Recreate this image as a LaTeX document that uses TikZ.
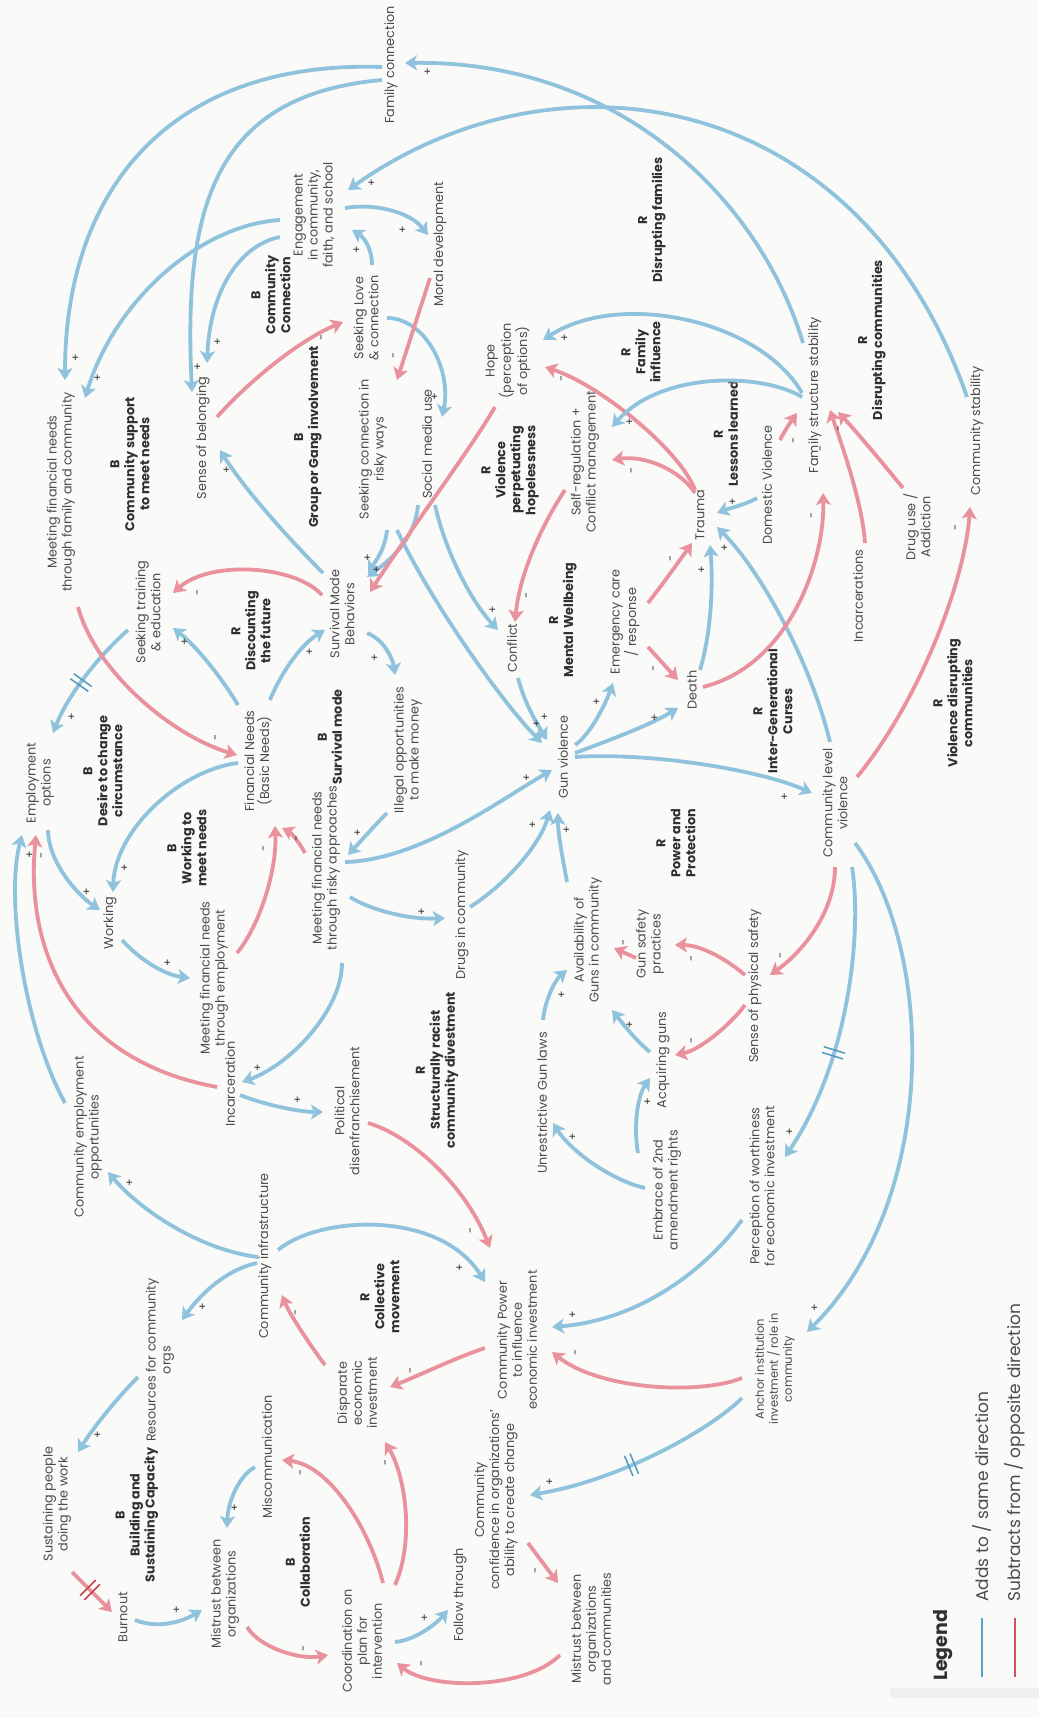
\documentclass[tikz,border=0pt]{standalone}
\usepackage{fontspec}
\setmainfont{Poppins}
\usetikzlibrary{arrows.meta,decorations.markings}
\definecolor{bl}{HTML}{8FC2DC}
\definecolor{rd}{HTML}{E9919D}
\definecolor{bgc}{HTML}{FAFAF8}
\definecolor{txt}{HTML}{4C4C4C}
\definecolor{dk}{HTML}{303030}
\definecolor{dlyb}{HTML}{4F9BBF}
\definecolor{dlyr}{HTML}{C8404F}
\definecolor{legb}{HTML}{4FA6C8}
\definecolor{legr}{HTML}{D05564}
\begin{document}
\begin{tikzpicture}[x=1pt,y=-1pt,
 vlab/.style={rotate=90, align=center, text=txt, font=\fontsize{12.8}{15}\selectfont, inner sep=1pt},
 looplab/.style={rotate=90, align=center, text=dk, font=\fontsize{12.8}{15}\selectfont\bfseries, inner sep=1pt},
 sgn/.style={rotate=90, text=dk, font=\fontsize{11}{11}\selectfont, inner sep=0pt},
 plusar/.style={draw=bl, line width=3.8pt, -{Stealth[length=12pt,width=15pt,inset=3pt]}},
 minusar/.style={draw=rd, line width=3.8pt, -{Stealth[length=12pt,width=15pt,inset=3pt]}},
 delayb/.style={postaction={decorate,decoration={markings,mark=at position #1 with {\draw[-,draw=dlyb,line width=1.5pt] (-3,-11)--(-3,11) (3,-11)--(3,11);}}}},
 delayr/.style={postaction={decorate,decoration={markings,mark=at position #1 with {\draw[-,draw=dlyr,line width=1.5pt] (-3,-11)--(-3,11) (3,-11)--(3,11);}}}}
]
\useasboundingbox (0,0) rectangle (1039,1718);
\fill[bgc] (0,0) rectangle (1039,1718);
\fill[black!6] (890,1688) rectangle (1039,1698);

% ---------- variables ----------
\node[vlab] (fam) at (391,65) {Family connection};
\node[vlab] (eng) at (314,215) {Engagement\\in community,\\faith, and school};
\node[looplab] (lccB) at (271,295) {B\\Community\\Connection};
\node[vlab] (mfam) at (61,492) {Meeting financial needs\\through family and community};
\node[looplab] (lcsB) at (130,464) {B\\Community support\\to meet needs};
\node[vlab] (sob) at (203,438) {Sense of belonging};
\node[looplab] (lggB) at (308,437) {B\\Group or Gang involvement};
\node[vlab] (slc) at (366,318) {Seeking Love\\\& connection};
\node[vlab] (mor) at (440,244) {Moral development};
\node[looplab] (ldfR) at (652,220) {R\\Disrupting families};
\node[vlab] (hope) at (508,361) {Hope\\(perception\\of options)};
\node[looplab] (lfiR) at (641,352) {R\\Family\\influence};
\node[vlab] (scr) at (373,449) {Seeking connection in\\risky ways};
\node[vlab] (smu) at (427,444) {Social media use};
\node[looplab] (lvpR) at (510,470) {R\\Violence\\perpetuating\\hopelessness};
\node[vlab] (srg) at (585,462) {Self-regulation +\\Conflict management};
\node[vlab] (trm) at (700,515) {Trauma};
\node[vlab] (dv) at (767,485) {Domestic Violence};
\node[looplab] (lllR) at (726,434) {R\\Lessons learned};
\node[vlab] (fss) at (815,395) {Family structure stability};
\node[looplab] (ldcR) at (872,340) {R\\Disrupting communities};
\node[vlab] (cst) at (977,431) {Community stability};
\node[vlab] (dua) at (917,527) {Drug use /\\Addiction};
\node[vlab] (inc2) at (858,596) {Incarcerations};
\node[looplab] (lvdR) at (953,703) {R\\Violence disrupting\\communities};
\node[vlab] (clv) at (835,803) {Community level\\violence};
\node[looplab] (ligR) at (773,711) {R\\Inter-Generational\\Curses};
\node[vlab] (dth) at (692,690) {Death};
\node[vlab] (emc) at (625,622) {Emergency care\\/ response};
\node[looplab] (lmwR) at (563,620) {R\\Mental Wellbeing};
\node[vlab] (cfl) at (512,648) {Conflict};
\node[vlab] (gv) at (563,757) {Gun violence};
\node[vlab] (smb) at (342,614) {Survival Mode\\Behaviors};
\node[vlab] (ill) at (408,750) {Illegal opportunities\\to make money};
\node[vlab] (ste) at (148,612) {Seeking training\\\& education};
\node[looplab] (ldfuR) at (251,631) {R\\Discounting\\the future};
\node[vlab] (emp) at (40,783) {Employment\\options};
\node[looplab] (ldcB) at (103,771) {B\\Desire to change\\circumstance};
\node[vlab] (fin) at (258,761) {Financial Needs\\(Basic Needs)};
\node[looplab] (lsmB) at (330,737) {B\\Survival mode};
\node[looplab] (lwmB) at (187,848) {B\\Working to\\meet needs};
\node[vlab] (wrk) at (110,923) {Working};
\node[vlab] (mfe) at (214,978) {Meeting financial needs\\through employment};
\node[vlab] (mfr) at (326,868) {Meeting financial needs\\through risky approaches};
\node[vlab] (inc) at (230,1084) {Incarceration};
\node[vlab] (pol) at (347,1111) {Political\\disenfranchisement};
\node[vlab] (cemp) at (88,1137) {Community employment\\opportunities};
\node[vlab] (cinf) at (265,1256) {Community infrastructure};
\node[vlab] (res) at (160,1360) {Resources for community\\orgs};
\node[looplab] (lbsB) at (137,1515) {B\\Building and\\Sustaining Capacity};
\node[vlab] (sus) at (57,1504) {Sustaining people\\doing the work};
\node[vlab] (bur) at (123,1617) {Burnout};
\node[vlab] (mbo) at (225,1594) {Mistrust between\\organizations};
\node[vlab] (mis) at (267,1457) {Miscommunication};
\node[looplab] (lcoB) at (298,1562) {B\\Collaboration};
\node[vlab] (dei) at (357,1393) {Disparate\\economic\\investment};
\node[vlab] (coo) at (362,1641) {Coordination on\\plan for\\intervention};
\node[vlab] (fol) at (460,1595) {Follow through};
\node[vlab] (ccc) at (496,1500) {Community\\confidence in organizations'\\ability to create change};
\node[vlab] (mboc) at (591,1629) {Mistrust between\\organizations\\and communities};
\node[vlab] (cpw) at (517,1340) {Community Power\\to influence\\economic investment};
\node[looplab] (lcmR) at (380,1297) {R\\Collective\\movement};
\node[looplab] (lsrR) at (437,1070) {R\\Structurally racist\\community divestment};
\node[vlab] (dic) at (462,915) {Drugs in community};
\node[vlab] (avg) at (588,940) {Availability of\\Guns in community};
\node[vlab] (gsp) at (650,944) {Gun safety\\practices};
\node[vlab] (acq) at (663,1060) {Acquiring guns};
\node[vlab] (ugl) at (542,1103) {Unrestrictive Gun laws};
\node[vlab] (emb) at (667,1190) {Embrace of 2nd\\amendment rights};
\node[looplab] (lppR) at (676,843) {R\\Power and\\Protection};
\node[vlab] (sps) at (755,986) {Sense of physical safety};
\node[vlab] (pwe) at (762,1186) {Perception of worthiness\\for economic investment};
\node[vlab, font=\fontsize{11.5}{14}\selectfont] (anc) at (775,1369) {Anchor institution\\investment / role in\\community};

% ---------- connectors ----------
\draw[plusar] ([shift={(-9,2)}]fam.center) .. controls (170,60) and (65,190) .. ([shift={(4,-112)}]mfam.center);
\draw[plusar] ([shift={(-9,15)}]fam.center) .. controls (215,95) and (183,205) .. ([shift={(-11,-46)}]sob.center);
\draw[plusar] ([shift={(-34,5)}]eng.center) .. controls (200,225) and (115,300) .. ([shift={(24,-94)}]mfam.center);
\draw[plusar] ([shift={(-34,22)}]eng.center) .. controls (240,245) and (210,290) .. ([shift={(4,-75)}]sob.center);
\draw[plusar] ([shift={(-10,-34)}]cst.center) .. controls (860,90) and (560,40) .. ([shift={(34,-25)}]eng.center);
\draw[plusar] ([shift={(-12,-52)}]fss.center) .. controls (760,200) and (620,60) .. ([shift={(14,-2)}]fam.center);
\draw[plusar] ([shift={(6,-53)}]slc.center) .. controls (372,250) and (365,238) .. ([shift={(38,15)}]eng.center);
\draw[plusar] ([shift={(31,-7)}]eng.center) .. controls (375,203) and (410,212) .. ([shift={(-12,-9)}]mor.center);
\draw[plusar] ([shift={(21,0)}]slc.center) .. controls (425,318) and (452,370) .. ([shift={(15,-27)}]smu.center);
\draw[minusar] ([shift={(-10,34)}]mor.center) -- ([shift={(24,-69)}]scr.center);
\draw[minusar] ([shift={(14,-21)}]sob.center) .. controls (250,380) and (300,340) .. ([shift={(-23,4)}]slc.center);
\draw[plusar] ([shift={(-19,-41)}]smb.center) .. controls (290,540) and (245,490) .. ([shift={(17,12)}]sob.center);
\draw[minusar] ([shift={(-20,-19)}]smb.center) .. controls (295,565) and (210,560) .. ([shift={(25,-19)}]ste.center);
\draw[plusar] ([shift={(-20,-56)}]fin.center) .. controls (220,675) and (195,645) .. ([shift={(25,16)}]ste.center);
\draw[plusar] ([shift={(12,-61)}]fin.center) .. controls (280,675) and (300,645) .. ([shift={(-17,16)}]smb.center);
\draw[plusar,delayb=0.55] ([shift={(-20,18)}]ste.center) .. controls (105,650) and (70,690) .. ([shift={(13,-50)}]emp.center);
\draw[minusar] ([shift={(17,115)}]mfam.center) .. controls (95,670) and (170,735) .. ([shift={(-21,-6)}]fin.center);
\draw[plusar] ([shift={(-20,2)}]fin.center) .. controls (180,770) and (115,830) .. ([shift={(3,-31)}]wrk.center);
\draw[plusar] ([shift={(8,47)}]emp.center) .. controls (48,860) and (75,893) .. ([shift={(-10,-13)}]wrk.center);
\draw[plusar] ([shift={(-23,-34)}]cemp.center) .. controls (25,1030) and (5,900) .. ([shift={(-18,52)}]emp.center);
\draw[minusar] ([shift={(-13,3)}]inc.center) .. controls (70,1060) and (25,950) .. ([shift={(-4,52)}]emp.center);
\draw[plusar] ([shift={(12,17)}]wrk.center) .. controls (140,960) and (165,975) .. ([shift={(-24,0)}]mfe.center);
\draw[minusar] ([shift={(23,-25)}]mfe.center) .. controls (260,925) and (277,870) .. ([shift={(17,65)}]fin.center);
\draw[minusar] ([shift={(-21,-15)}]mfr.center) .. controls (298,840) and (290,832) .. ([shift={(24,67)}]fin.center);
\draw[plusar] ([shift={(25,19)}]smb.center) .. controls (385,640) and (393,660) .. ([shift={(-13,-75)}]ill.center);
\draw[plusar] ([shift={(-21,63)}]ill.center) .. controls (375,825) and (360,842) .. ([shift={(22,-13)}]mfr.center);
\draw[plusar] ([shift={(19,-6)}]mfr.center) .. controls (420,860) and (500,800) .. ([shift={(-11,13)}]gv.center);
\draw[plusar] ([shift={(24,29)}]mfr.center) .. controls (370,910) and (410,920) .. ([shift={(-17,3)}]dic.center);
\draw[plusar] ([shift={(16,95)}]mfr.center) .. controls (342,1010) and (290,1065) .. ([shift={(12,-2)}]inc.center);
\draw[plusar] ([shift={(10,11)}]inc.center) .. controls (265,1105) and (300,1112) .. ([shift={(-24,1)}]pol.center);
\draw[plusar] ([shift={(8,-8)}]dic.center) .. controls (505,885) and (540,845) .. ([shift={(-13,53)}]gv.center);
\draw[plusar] ([shift={(-21,-58)}]avg.center) .. controls (563,860) and (558,835) .. ([shift={(-5,56)}]gv.center);
\draw[plusar] ([shift={(6,30)}]cfl.center) .. controls (525,705) and (538,725) .. ([shift={(-16,-17)}]gv.center);
\draw[plusar] ([shift={(24,81)}]scr.center) .. controls (430,600) and (500,700) .. ([shift={(-21,-14)}]gv.center);
\draw[plusar] ([shift={(8,61)}]smu.center) .. controls (445,550) and (470,600) .. ([shift={(-14,-18)}]cfl.center);
\draw[plusar] ([shift={(-9,61)}]smu.center) .. controls (415,540) and (390,560) .. ([shift={(25,-37)}]smb.center);
\draw[plusar] ([shift={(14,81)}]scr.center) .. controls (385,550) and (375,562) .. ([shift={(26,-41)}]smb.center);
\draw[minusar] ([shift={(-13,46)}]hope.center) .. controls (470,450) and (410,530) .. ([shift={(28,-22)}]smb.center);
\draw[minusar] ([shift={(-20,28)}]srg.center) .. controls (545,520) and (520,570) .. ([shift={(3,-26)}]cfl.center);
\draw[minusar] ([shift={(-5,-22)}]trm.center) .. controls (680,470) and (645,455) .. ([shift={(27,-2)}]srg.center);
\draw[minusar] ([shift={(-5,-25)}]trm.center) .. controls (680,450) and (600,385) .. ([shift={(37,6)}]hope.center);
\draw[minusar] ([shift={(23,-19)}]emc.center) .. controls (662,585) and (680,560) .. ([shift={(-8,28)}]trm.center);
\draw[minusar] ([shift={(23,25)}]emc.center) -- ([shift={(-14,-10)}]dth.center);
\draw[plusar] ([shift={(12,-12)}]gv.center) .. controls (590,735) and (605,705) .. ([shift={(-12,61)}]emc.center);
\draw[plusar] ([shift={(12,-4)}]gv.center) .. controls (610,740) and (650,725) .. ([shift={(-14,18)}]dth.center);
\draw[plusar] ([shift={(12,0)}]gv.center) .. controls (650,752) and (760,770) .. ([shift={(-23,-10)}]clv.center);
\draw[plusar] ([shift={(8,-20)}]dth.center) .. controls (712,630) and (713,580) .. ([shift={(10,30)}]trm.center);
\draw[plusar] ([shift={(-5,-61)}]clv.center) .. controls (810,660) and (760,570) .. ([shift={(17,12)}]trm.center);
\draw[plusar] ([shift={(-10,13)}]dv.center) .. controls (745,505) and (730,508) .. ([shift={(17,-2)}]trm.center);
\draw[minusar] ([shift={(11,-3)}]dth.center) .. controls (790,665) and (825,560) .. ([shift={(8,98)}]fss.center);
\draw[minusar] ([shift={(13,-45)}]dv.center) .. controls (785,430) and (792,420) .. ([shift={(-18,18)}]fss.center);
\draw[minusar] ([shift={(7,-53)}]inc2.center) .. controls (862,500) and (840,440) .. ([shift={(15,15)}]fss.center);
\draw[minusar] ([shift={(-14,-39)}]dua.center) .. controls (880,460) and (855,430) .. ([shift={(23,17)}]fss.center);
\draw[minusar] ([shift={(22,-26)}]clv.center) .. controls (920,700) and (965,580) .. ([shift={(-7,76)}]cst.center);
\draw[plusar] ([shift={(-13,-2)}]fss.center) .. controls (760,320) and (620,290) .. ([shift={(35,-21)}]hope.center);
\draw[plusar] ([shift={(-13,2)}]fss.center) .. controls (760,372) and (660,372) .. ([shift={(27,-35)}]srg.center);
\draw[minusar] ([shift={(0,64)}]clv.center) .. controls (835,910) and (805,950) .. ([shift={(15,-11)}]sps.center);
\draw[minusar] ([shift={(-10,-11)}]sps.center) .. controls (725,958) and (700,945) .. ([shift={(25,1)}]gsp.center);
\draw[minusar] ([shift={(-10,19)}]sps.center) .. controls (730,1025) and (700,1050) .. ([shift={(12,-5)}]acq.center);
\draw[plusar] ([shift={(-13,-8)}]acq.center) .. controls (635,1040) and (620,1020) .. ([shift={(24,70)}]avg.center);
\draw[minusar] ([shift={(-14,14)}]gsp.center) -- ([shift={(26,8)}]avg.center);
\draw[plusar] ([shift={(1,-83)}]ugl.center) .. controls (545,1000) and (555,980) .. ([shift={(-21,30)}]avg.center);
\draw[plusar] ([shift={(-22,-2)}]emb.center) .. controls (610,1180) and (570,1150) .. ([shift={(11,20)}]ugl.center);
\draw[plusar] ([shift={(-29,-37)}]emb.center) .. controls (633,1125) and (638,1095) .. ([shift={(-13,18)}]acq.center);
\draw[plusar,delayb=0.62] ([shift={(17,64)}]clv.center) .. controls (862,930) and (850,1060) .. ([shift={(23,-29)}]pwe.center);
\draw[plusar] ([shift={(20,40)}]clv.center) .. controls (935,950) and (940,1200) .. ([shift={(32,-37)}]anc.center);
\draw[plusar] ([shift={(-20,34)}]pwe.center) .. controls (705,1270) and (640,1320) .. ([shift={(35,-13)}]cpw.center);
\draw[minusar] ([shift={(-33,9)}]anc.center) .. controls (700,1395) and (600,1390) .. ([shift={(35,12)}]cpw.center);
\draw[plusar,delayb=0.55] ([shift={(-33,29)}]anc.center) .. controls (710,1430) and (620,1480) .. ([shift={(34,-5)}]ccc.center);
\draw[minusar] ([shift={(32,43)}]ccc.center) -- ([shift={(-33,-46)}]mboc.center);
\draw[minusar] ([shift={(-31,26)}]mboc.center) .. controls (525,1690) and (430,1690) .. ([shift={(35,22)}]coo.center);
\draw[plusar] ([shift={(33,1)}]coo.center) .. controls (415,1640) and (435,1625) .. ([shift={(-12,15)}]fol.center);
\draw[minusar] ([shift={(21,-58)}]coo.center) .. controls (370,1530) and (330,1465) .. ([shift={(15,3)}]mis.center);
\draw[minusar] ([shift={(33,-56)}]coo.center) .. controls (415,1540) and (405,1475) .. ([shift={(28,49)}]dei.center);
\draw[minusar] ([shift={(-32,8)}]cpw.center) .. controls (455,1358) and (420,1375) .. ([shift={(33,-6)}]dei.center);
\draw[minusar] ([shift={(-32,-28)}]dei.center) .. controls (310,1345) and (290,1315) .. ([shift={(17,39)}]cinf.center);
\draw[plusar] ([shift={(-7,1)}]cinf.center) .. controls (200,1250) and (140,1210) .. ([shift={(20,35)}]cemp.center);
\draw[plusar] ([shift={(-8,7)}]cinf.center) .. controls (225,1270) and (200,1295) .. ([shift={(22,-40)}]res.center);
\draw[plusar] ([shift={(13,-6)}]cinf.center) .. controls (320,1215) and (440,1210) .. ([shift={(-32,-58)}]cpw.center);
\draw[minusar] ([shift={(21,12)}]pol.center) .. controls (410,1135) and (465,1185) .. ([shift={(-27,-92)}]cpw.center);
\draw[plusar] ([shift={(-22,17)}]res.center) .. controls (120,1395) and (95,1425) .. ([shift={(21,-52)}]sus.center);
\draw[minusar,delayr=0.45] ([shift={(15,68)}]sus.center) -- ([shift={(-11,-5)}]bur.center);
\draw[plusar] ([shift={(12,3)}]bur.center) .. controls (160,1630) and (185,1620) .. ([shift={(-23,16)}]mbo.center);
\draw[plusar] ([shift={(-12,10)}]mis.center) .. controls (240,1475) and (228,1500) .. ([shift={(2,-66)}]mbo.center);
\draw[minusar] ([shift={(22,33)}]mbo.center) .. controls (260,1648) and (300,1660) .. ([shift={(-34,14)}]coo.center);

% ---------- polarity signs ----------
\node[sgn] (g1) at (428,72) {+};
\node[sgn] (g2) at (76,358) {+};
\node[sgn] (g3) at (198,367) {+};
\node[sgn] (g4) at (98,378) {+};
\node[sgn] (g5) at (218,342) {+};
\node[sgn] (g6) at (372,183) {+};
\node[sgn] (g7) at (357,250) {+};
\node[sgn] (g8) at (403,230) {+};
\node[sgn] (g9) at (435,397) {+};
\node[sgn] (g10) at (395,355) {-};
\node[sgn] (g11) at (323,337) {-};
\node[sgn] (g12) at (227,470) {+};
\node[sgn] (g13) at (199,592) {-};
\node[sgn] (g14) at (185,642) {+};
\node[sgn] (g15) at (310,652) {+};
\node[sgn] (g16) at (72,717) {+};
\node[sgn] (g17) at (217,737) {-};
\node[sgn] (g18) at (125,868) {+};
\node[sgn] (g19) at (87,892) {+};
\node[sgn] (g20) at (30,855) {+};
\node[sgn] (g21) at (43,855) {-};
\node[sgn] (g22) at (168,963) {+};
\node[sgn] (g23) at (265,848) {-};
\node[sgn] (g24) at (298,838) {-};
\node[sgn] (g25) at (375,658) {+};
\node[sgn] (g26) at (358,833) {+};
\node[sgn] (g27) at (527,778) {+};
\node[sgn] (g28) at (422,912) {+};
\node[sgn] (g29) at (258,1068) {+};
\node[sgn] (g30) at (298,1100) {+};
\node[sgn] (g31) at (533,825) {+};
\node[sgn] (g32) at (567,830) {+};
\node[sgn] (g33) at (545,717) {+};
\node[sgn] (g34) at (537,724) {+};
\node[sgn] (g35) at (493,610) {+};
\node[sgn] (g36) at (377,570) {+};
\node[sgn] (g37) at (368,558) {+};
\node[sgn] (g39) at (528,595) {-};
\node[sgn] (g40) at (633,470) {-};
\node[sgn] (g41) at (563,378) {-};
\node[sgn] (g42) at (672,558) {-};
\node[sgn] (g43) at (655,668) {-};
\node[sgn] (g44) at (597,702) {+};
\node[sgn] (g45) at (655,718) {+};
\node[sgn] (g46) at (785,797) {+};
\node[sgn] (g47) at (702,570) {+};
\node[sgn] (g48) at (725,548) {+};
\node[sgn] (g49) at (733,502) {+};
\node[sgn] (g50) at (813,515) {-};
\node[sgn] (g51) at (795,440) {-};
\node[sgn] (g52) at (822,448) {-};
\node[sgn] (g53) at (840,428) {-};
\node[sgn] (g54) at (957,527) {-};
\node[sgn] (g55) at (565,338) {+};
\node[sgn] (g56) at (630,422) {+};
\node[sgn] (g57) at (782,955) {-};
\node[sgn] (g58) at (693,958) {-};
\node[sgn] (g59) at (693,1040) {-};
\node[sgn] (g60) at (630,1025) {+};
\node[sgn] (g61) at (625,942) {-};
\node[sgn] (g62) at (562,995) {+};
\node[sgn] (g63) at (573,1137) {+};
\node[sgn] (g64) at (648,1102) {+};
\node[sgn] (g65) at (790,1132) {+};
\node[sgn] (g66) at (815,1308) {+};
\node[sgn] (g67) at (573,1315) {+};
\node[sgn] (g68) at (577,1352) {-};
\node[sgn] (g69) at (550,1482) {+};
\node[sgn] (g70) at (537,1570) {-};
\node[sgn] (g71) at (423,1663) {-};
\node[sgn] (g72) at (425,1618) {+};
\node[sgn] (g73) at (302,1472) {-};
\node[sgn] (g74) at (387,1462) {-};
\node[sgn] (g75) at (412,1370) {-};
\node[sgn] (g76) at (297,1312) {-};
\node[sgn] (g77) at (130,1183) {+};
\node[sgn] (g78) at (203,1307) {+};
\node[sgn] (g79) at (460,1268) {+};
\node[sgn] (g80) at (472,1230) {-};
\node[sgn] (g81) at (98,1435) {+};
\node[sgn] (g83) at (177,1610) {+};
\node[sgn] (g84) at (235,1508) {+};
\node[sgn] (g85) at (305,1648) {-};

% ---------- legend ----------
\node[rotate=90, anchor=west, text=dk, font=\fontsize{19}{19}\selectfont\bfseries, inner sep=0pt] (leg) at (943,1681) {Legend};
\draw[legb, line width=1.6pt] (982,1618) -- (982,1677);
\node[rotate=90, anchor=west, text=txt, font=\fontsize{17}{17}\selectfont, inner sep=0pt] (lega) at (982,1602) {Adds to / same direction};
\draw[legr, line width=1.6pt] (1015,1618) -- (1015,1677);
\node[rotate=90, anchor=west, text=txt, font=\fontsize{17}{17}\selectfont, inner sep=0pt] (legs) at (1015,1602) {Subtracts from / opposite direction};
\end{tikzpicture}
\end{document}
